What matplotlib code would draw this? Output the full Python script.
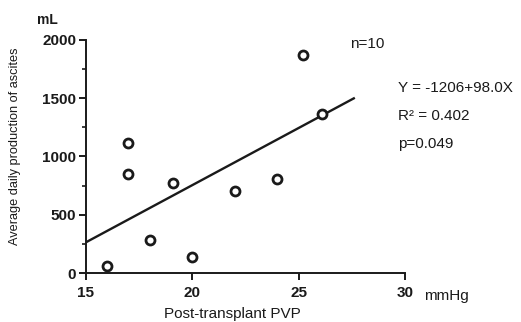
import matplotlib
matplotlib.use("Agg")
import matplotlib.pyplot as plt
import numpy as np

# data
pvp = [16.0, 17.0, 17.0, 18.0, 19.1, 20.0, 22.0, 24.0, 25.2, 26.1]
ascites = [60, 1120, 850, 280, 770, 140, 705, 805, 1870, 1365]
intercept = -1206
slope = 98.0
fit_x = [15.0, 27.6]

plt.rcParams["font.family"] = ["Liberation Sans", "DejaVu Sans"]
ink = "#1a1a1a"

fig = plt.figure(figsize=(5.21, 3.22), dpi=100)
ax = fig.add_axes([0.165, 0.152, 0.612, 0.724])

ax.scatter(pvp, ascites, s=42, facecolors="white", edgecolors=ink, linewidths=2.0, zorder=3)
fx = np.array(fit_x)
ax.plot(fx, intercept + slope * fx, color=ink, lw=1.7, zorder=2)

ax.set_xlim(15, 30)
ax.set_ylim(0, 2000)
ax.set_xticks([15, 20, 25, 30])
ax.set_yticks([0, 500, 1000, 1500, 2000])
ax.set_yticks([250, 750, 1250, 1750], minor=True)
for s in ["top", "right"]:
    ax.spines[s].set_visible(False)
for s in ["left", "bottom"]:
    ax.spines[s].set_linewidth(1.4)
    ax.spines[s].set_color(ink)
ax.tick_params(axis="both", which="major", length=5, width=1.4, color=ink,
               labelsize=11, labelcolor=ink, pad=2)
ax.tick_params(axis="x", which="major", pad=4)
ax.tick_params(axis="y", which="minor", length=3, width=1.2, color=ink)
for lab in ax.get_xticklabels() + ax.get_yticklabels():
    lab.set_fontweight("bold")

ax.set_xlabel("Post-transplant PVP", fontsize=11, color=ink)
ax.xaxis.set_label_coords(0.458, -0.145)
ax.set_ylabel("Average daily production of ascites", fontsize=9.2, color=ink)
ax.yaxis.set_label_coords(-0.205, 0.545)

fig.text(47 / 521, 1 - 20 / 322, "mL", fontsize=10, color=ink, ha="center", va="center", fontweight="bold")
fig.text(424 / 521, 1 - 296 / 322, "mmHg", fontsize=11, color=ink, ha="left", va="center")
fig.text(350 / 521, 1 - 44 / 322, "n=10", fontsize=11, color=ink, ha="left", va="center")
fig.text(398 / 521, 1 - 88 / 322, "Y = -1206+98.0X", fontsize=11, color=ink, ha="left", va="center")
fig.text(398 / 521, 1 - 116 / 322, "R\u00b2 = 0.402", fontsize=11, color=ink, ha="left", va="center")
fig.text(398 / 521, 1 - 144 / 322, "p=0.049", fontsize=11, color=ink, ha="left", va="center")

fig.savefig("out.png", dpi=100)
